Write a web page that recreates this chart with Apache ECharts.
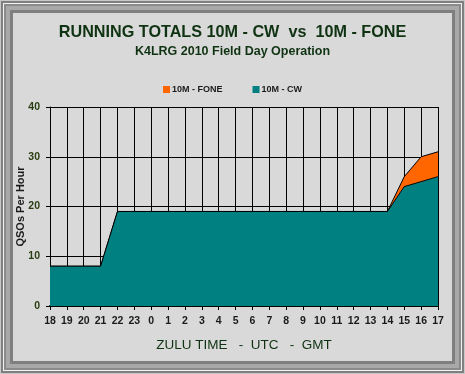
<!DOCTYPE html>
<html><head><meta charset="utf-8">
<script src="https://cdn.jsdelivr.net/npm/echarts@6/dist/echarts.min.js"></script>
<style>
html,body{margin:0;padding:0;background:#d9d9d9;}
#frame{position:absolute;left:0;top:0;width:465px;height:374px;box-sizing:border-box;background:#d9d9d9;
box-shadow: inset 0 0 0 1px #c8c8c8, inset 0 0 0 3px #7f7f7f, inset 0 0 0 4px #f2f2f2, inset 0 0 0 6px #8a8a8a, inset 0 0 0 10px #a8a8a8, inset 0 0 0 13px #7f7f7f;}
#c{position:absolute;left:0;top:0;width:465px;height:374px;}
</style></head><body>
<div id="frame"></div><div id="c"></div>
<script>
const hours = ['18','19','20','21','22','23','0','1','2','3','4','5','6','7','8','9','10','11','12','13','14','15','16','17'];
const cw =   [8,8,8,8,19,19,19,19,19,19,19,19,19,19,19,19,19,19,19,19,19,24,25,26];
const fone = [0,0,0,0,0,0,0,0,0,0,0,0,0,0,0,0,0,0,0,0,0,2,5,5];
const yTicks = [0,10,20,30,40];

const chart = echarts.init(document.getElementById('c'), null, {renderer:'canvas'});
const green = '#0f3312';
chart.setOption({
  animation:false,
  backgroundColor:'transparent',
  title:[{text:'RUNNING TOTALS 10M - CW  vs  10M - FONE',left:'center',top:20,
    textStyle:{fontFamily:'Liberation Sans, Arial',fontSize:16.2,fontWeight:'bold',color:green}},
    {text:'K4LRG 2010 Field Day Operation',left:'center',top:40,
    textStyle:{fontFamily:'Liberation Sans, Arial',fontSize:12.5,fontWeight:'bold',color:green}}],
  legend:{top:80,left:'center',itemWidth:7,itemHeight:7,itemGap:30,icon:'rect',
    data:['10M - FONE','10M - CW'],
    textStyle:{fontFamily:'Liberation Sans, Arial',fontSize:9,fontWeight:'bold',color:'#1a1a1a',padding:[0,0,0,-3]}},
  grid:{left:50,right:27,top:107,bottom:68,containLabel:false},
  xAxis:{type:'category',data:hours,boundaryGap:false,
    name:'ZULU TIME   -  UTC   -  GMT',nameLocation:'middle',nameGap:32,nameMoveOverlap:false,
    nameTextStyle:{fontFamily:'Liberation Sans, Arial',fontSize:13.5,color:green},
    axisLine:{lineStyle:{color:'#000',width:2}},
    axisTick:{show:true,length:4,lineStyle:{color:'#000'},alignWithLabel:true},
    axisLabel:{fontFamily:'Liberation Sans, Arial',fontSize:10.5,fontWeight:'bold',color:'#1a1a1a',margin:10,interval:0},
    splitLine:{show:true,lineStyle:{color:'#000',width:1}}},
  yAxis:{type:'value',min:0,max:40,interval:10,
    name:'QSOs Per Hour',nameLocation:'middle',nameGap:24,nameRotate:90,nameMoveOverlap:false,
    nameTextStyle:{fontFamily:'Liberation Sans, Arial',fontSize:11,fontWeight:'bold',color:'#1a1a1a'},
    axisLine:{show:true,lineStyle:{color:'#000',width:1}},
    axisTick:{show:true,length:4,lineStyle:{color:'#000'}},
    axisLabel:{fontFamily:'Liberation Sans, Arial',fontSize:10.5,fontWeight:'bold',color:'#2a3d12',margin:10,
      formatter:v=>yTicks.includes(v)?String(v):''},
    splitLine:{show:true,lineStyle:{color:'#000',width:1}}},
  series:[
    {name:'10M - CW',type:'line',stack:'t',data:cw,symbol:'none',
      itemStyle:{color:'#008080'},lineStyle:{color:'#000',width:1},areaStyle:{color:'#008080',opacity:1},z:3},
    {name:'10M - FONE',type:'line',stack:'t',data:fone,symbol:'none',
      itemStyle:{color:'#ff6600'},lineStyle:{color:'#000',width:1},areaStyle:{color:'#ff6600',opacity:1},z:2}
  ]
});
</script></body></html>
